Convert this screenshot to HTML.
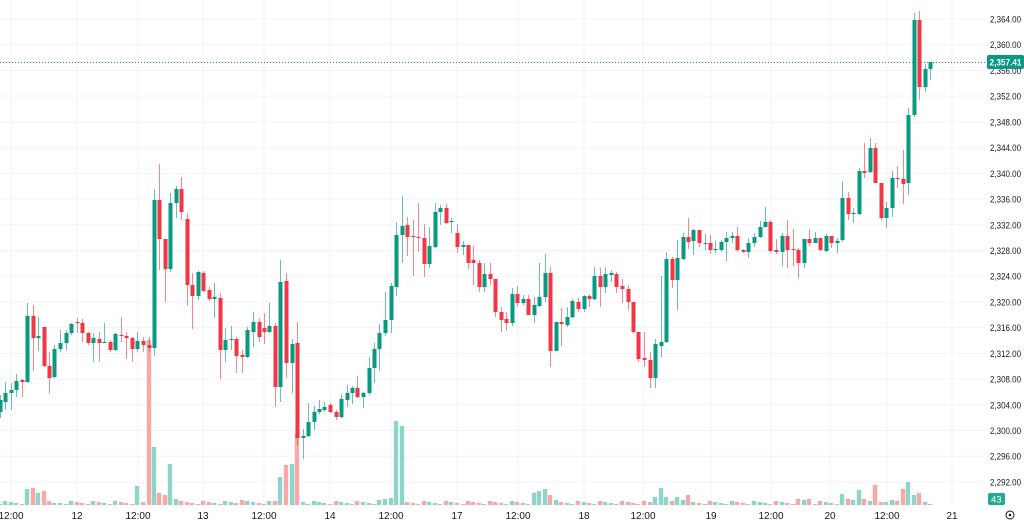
<!DOCTYPE html>
<html><head><meta charset="utf-8"><style>
html,body{margin:0;padding:0;background:#fff;}
svg{display:block;font-family:"Liberation Sans",sans-serif;}
</style></head><body>
<svg id="c" width="1024" height="522" xmlns="http://www.w3.org/2000/svg"></svg>
<script>
const s=document.getElementById('c');let h='';
const G='#089981',R='#f23645';
// grid
for(let p=2364;p>=2292;p-=4){const y=19+(2364-p)*6.43;h+=`<line x1="0" x2="985" y1="${y}" y2="${y}" stroke="#f0f3fa" stroke-width="1"/>`;
h+=`<text x="990" y="${y+3.5}" font-size="9.5" fill="#131722" textLength="31" lengthAdjust="spacingAndGlyphs">${(p/1000).toFixed(3).replace('.',',')}.00</text>`;}
const gx=[11,77,138,203,264,330,391,457,518,584,643,711,771,830,887,952];
const gl=['12:00','12','12:00','13','12:00','14','12:00','17','12:00','18','12:00','19','12:00','20','12:00','21'];
gx.forEach((x,i)=>{h+=`<line x1="${x}" x2="${x}" y1="0" y2="506" stroke="#f0f3fa"/>`;h+=`<text x="${x}" y="519" font-size="10" fill="#131722" text-anchor="middle">${gl[i]}</text>`;});
const C=[[0,400,412,395,418,'g'],
[5,393,402,382,410,'g'],[11,390,393,383,410,'g'],[16,381,390,374,397,'g'],[22,380,382,379,397,'r'],[27,316,382,303,383,'g'],[33,316,338,305,371,'r'],[38,336,338,317,351,'g'],[44,327,366,329,367,'r'],[49,366,378,352,393,'r'],[54,349,377,345,378,'g'],[60,343,349,330,352,'g'],[66,333,343,330,350,'g'],[71,324,333,323,335,'g'],[77,322,323,318,333,'r'],[82,323,333,319,342,'r'],[88,333,343,332,345,'r'],[93,338,343,333,362,'g'],[99,339,343,332,362,'r'],[104,342,343,323,343,'g'],[110,342,350,340,352,'r'],[115,334,350,333,351,'g'],[121,335,336,317,342,'r'],[126,336,338,332,359,'r'],[132,338,349,337,362,'r'],[137,341,349,332,352,'g'],[143,341,345,337,352,'r'],[149,345,348,337,352,'r'],[154,200,348,189,356,'g'],[159,200,239,164,270,'r'],
[165,239,269,239,302,'r'],[170,203,269,193,272,'g'],[176,189,203,186,218,'g'],[181,189,212,177,220,'r'],[187,219,285,213,306,'r'],[192,285,296,273,329,'r'],[198,272,296,271,300,'g'],[203,273,291,271,292,'r'],[209,290,299,287,301,'r'],[214,297,299,283,318,'g'],[220,298,350,293,379,'r'],[225,340,350,328,362,'g'],[231,339,340,326,350,'g'],[236,339,356,337,373,'r'],[242,355,357,350,373,'r'],[247,330,357,327,358,'g'],[253,322,332,312,347,'g'],[259,322,337,318,342,'r'],[264,328,332,313,344,'r'],[269,326,332,303,333,'g'],[275,326,387,323,407,'r'],[280,282,387,260,402,'g'],[286,281,363,273,378,'r'],[292,344,363,339,393,'g'],[297,343,438,322,445,'r'],[303,436,438,429,459,'g'],[308,422,436,403,437,'g'],[314,412,422,406,430,'g'],[319,409,412,400,414,'g'],[324,407,410,402,412,'g'],
[330,405,412,403,413,'r'],[336,412,417,410,420,'r'],[341,399,417,395,418,'g'],[347,393,400,385,407,'g'],[352,388,393,386,404,'g'],[357,388,397,376,398,'r'],[363,393,397,392,408,'g'],[369,368,393,357,395,'g'],[374,349,368,343,383,'g'],[379,333,349,324,371,'g'],[385,320,333,292,336,'g'],[391,286,320,283,333,'g'],[396,235,287,222,296,'g'],[402,226,235,196,263,'g'],[407,225,237,217,256,'r'],[413,236,237,220,276,'r'],[418,237,238,203,252,'r'],[424,238,264,224,277,'r'],[429,246,264,227,268,'g'],[435,212,247,203,248,'g'],[440,208,212,205,225,'g'],[446,208,223,204,224,'r'],[451,221,222,218,233,'g'],[457,233,247,224,253,'r'],[463,245,247,241,255,'g'],[468,245,263,245,269,'r'],[473,260,263,246,285,'r'],[479,263,287,260,292,'r'],[484,274,287,263,292,'g'],
[490,274,279,263,285,'r'],[495,279,312,279,317,'r'],[501,312,320,307,332,'r'],[506,319,323,312,331,'r'],[512,294,323,288,326,'g'],[517,294,303,286,307,'r'],[523,299,303,295,305,'g'],[528,299,315,295,315,'r'],[534,305,315,297,323,'g'],[539,297,306,263,307,'g'],[545,273,297,254,302,'g'],[550,273,351,267,367,'r'],[556,322,351,322,351,'g'],[561,322,324,308,346,'r'],[567,317,325,307,327,'g'],[572,301,317,299,318,'g'],[578,302,309,298,312,'r'],[584,296,309,295,312,'g'],[589,296,299,294,307,'r'],[594,276,299,267,300,'g'],[600,276,287,268,307,'r'],[605,274,287,267,293,'g'],[611,273,275,270,282,'g'],[616,274,287,272,293,'r'],[622,286,289,279,303,'r'],[628,289,302,285,310,'r'],[633,302,332,302,334,'r'],[638,332,359,332,362,'r'],
[644,358,360,332,367,'r'],[650,360,378,352,388,'r'],[655,344,378,339,388,'g'],[661,342,346,276,357,'g'],[666,259,342,252,343,'g'],[672,259,280,257,288,'r'],[677,258,280,240,310,'g'],[683,237,259,233,260,'g'],[688,237,242,218,249,'r'],[693,230,241,229,255,'g'],[699,230,243,230,247,'r'],[705,243,244,234,250,'g'],[710,243,250,235,254,'r'],[715,249,250,241,253,'g'],[721,242,250,240,252,'g'],[726,238,242,232,261,'g'],[732,236,238,232,243,'g'],[737,236,250,227,252,'r'],[743,250,252,249,253,'r'],[748,243,252,238,258,'g'],[754,237,243,233,247,'g'],[760,227,237,221,238,'g'],[765,222,227,207,227,'g'],[770,222,251,220,253,'r'],[776,250,252,239,254,'r'],[782,236,252,233,266,'g'],[787,236,250,220,268,'r'],[793,249,250,229,266,'r'],[798,250,263,248,278,'r'],
[804,239,263,239,268,'g'],[809,239,243,229,246,'r'],[815,238,243,232,243,'g'],[820,238,250,238,251,'r'],[826,236,251,234,252,'g'],[831,236,243,236,248,'r'],[837,241,243,238,253,'g'],[842,198,240,181,242,'g'],[848,198,214,192,220,'r'],[853,213,214,208,223,'g'],[859,171,214,168,215,'g'],[864,171,173,143,178,'r'],[870,148,172,138,173,'g'],[875,148,183,143,183,'r'],[881,183,218,183,220,'r'],[886,208,218,202,228,'g'],[892,178,208,171,217,'g'],[897,178,179,166,188,'r'],[903,179,184,150,204,'r'],[908,115,183,108,195,'g'],[914,20,115,13,117,'g'],[919,20,87,11,100,'r'],[925,69,87,64,92,'g'],[930,62,69,62,80,'g']];
const big={27:[16,'g'],33:[17,'r'],38:[12,'g'],44:[14,'r'],49:[4,'r'],54:[2,'g'],137:[19,'g'],149:[165,'r'],154:[58,'g'],159:[12,'r'],165:[10,'r'],170:[41,'g'],176:[6,'g'],242:[5,'r'],275:[4,'r'],280:[28,'g'],286:[40,'r'],292:[41,'g'],297:[72,'r'],303:[3,'g'],385:[6,'g'],391:[7,'g'],396:[84,'g'],402:[79,'g'],379:[5,'g'],534:[12,'g'],539:[14,'g'],545:[16,'g'],550:[10,'r'],556:[5,'g'],655:[8,'g'],661:[17,'g'],666:[8,'g'],672:[4,'r'],677:[8,'g'],683:[5,'g'],688:[10,'r'],798:[6,'r'],804:[5,'g'],809:[6,'r'],
842:[11,'g'],848:[6,'r'],853:[5,'g'],859:[15,'g'],864:[6,'r'],870:[4,'g'],875:[20,'r'],881:[3,'r'],886:[3,'g'],892:[5,'g'],897:[4,'r'],903:[16,'r'],908:[23,'g'],914:[10,'g'],919:[12,'r'],925:[3,'g'],930:[1,'g']};
C.forEach((c,i)=>{let v=big[c[0]];let hh,col;if(v){hh=v[0];col=v[1];}else{hh=1+((i*7)%4);col=c[5];}
h+=`<rect x="${c[0]-2.2}" y="${505-hh}" width="4.4" height="${hh}" fill="${col=='g'?'#8fd4c8':'#f8a9a7'}"/>`;});
C.forEach(c=>{const col=c[5]=='g'?G:R;
h+=`<line x1="${c[0]+.5}" x2="${c[0]+.5}" y1="${c[3]}" y2="${c[4]}" stroke="${col}" stroke-width="1" opacity="0.6"/>`;
h+=`<rect x="${c[0]-1.5}" y="${c[1]}" width="4" height="${Math.max(1,c[2]-c[1])}" fill="${col}"/>`;});
h+=`<line x1="0" x2="987" y1="62.5" y2="62.5" stroke="#089981" stroke-dasharray="1,2" stroke-width="1"/>`;
h+=`<rect x="987" y="55" width="37" height="14" rx="2" fill="#089981"/><text x="989.5" y="65.5" font-size="9.5" font-weight="bold" fill="#fff" textLength="32" lengthAdjust="spacingAndGlyphs">2,357.41</text>`;
h+=`<rect x="988" y="493" width="17" height="12" rx="2" fill="#22ab94"/><text x="991" y="502.5" font-size="9.5" fill="#fff">43</text>`;
h+=`<circle cx="1010" cy="515" r="4" fill="none" stroke="#131722" stroke-width="1"/><circle cx="1010" cy="515" r="1.3" fill="#131722"/>`;
s.innerHTML=h;
</script>
</body></html>
